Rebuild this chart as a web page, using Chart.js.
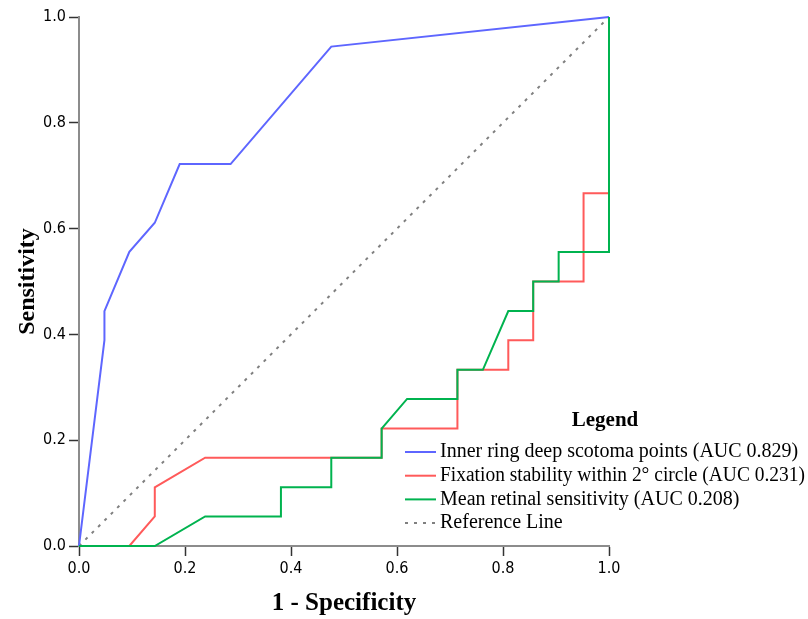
<!DOCTYPE html>
<html>
<head>
<meta charset="utf-8">
<script src="https://cdn.jsdelivr.net/npm/chart.js@4/dist/chart.umd.min.js"></script>
<style>
  body { margin: 0; background: #fff; }
  #wrap { width: 808px; height: 619px; }
</style>
</head>
<body>
<div id="wrap"><canvas id="roc" width="808" height="619"></canvas></div>
<script>
// ROC coordinates (1 - specificity, sensitivity)
const innerX = [0, 0.048, 0.048, 0.095, 0.143, 0.190, 0.286, 0.476, 1.0];
const innerY = [0, 0.389, 0.444, 0.556, 0.611, 0.722, 0.722, 0.944, 1.0];

const fixX = [0, 0.095, 0.143, 0.143, 0.238, 0.571, 0.571, 0.714, 0.714, 0.810, 0.810, 0.857, 0.857, 0.952, 0.952, 1.0, 1.0];
const fixY = [0, 0, 0.056, 0.111, 0.167, 0.167, 0.222, 0.222, 0.333, 0.333, 0.389, 0.389, 0.5, 0.5, 0.667, 0.667, 1.0];

const meanX = [0, 0.143, 0.238, 0.381, 0.381, 0.476, 0.476, 0.571, 0.571, 0.619, 0.714, 0.714, 0.762, 0.810, 0.857, 0.857, 0.905, 0.905, 1.0, 1.0];
const meanY = [0, 0, 0.056, 0.056, 0.111, 0.111, 0.167, 0.167, 0.222, 0.278, 0.278, 0.333, 0.333, 0.444, 0.444, 0.5, 0.5, 0.556, 0.556, 1.0];

const refX = [0, 1];
const refY = [0, 1];

const seriesLabels = [
  'Inner ring deep scotoma points (AUC 0.829)',
  'Fixation stability within 2\u00B0 circle (AUC 0.231)',
  'Mean retinal sensitivity (AUC 0.208)',
  'Reference Line'
];
const tickValues = [0, 0.2, 0.4, 0.6, 0.8, 1.0];

function pts(xs, ys) {
  return xs.map((x, i) => ({x: x, y: ys[i]}));
}

const serif = '"Liberation Serif", "Times New Roman", serif';
const narrow = '"Liberation Sans Narrow", "DejaVu Sans Condensed", sans-serif';

// draws the SPSS style legend box inside the plot
const legendBox = {
  id: 'legendBox',
  afterDraw(chart) {
    const ctx = chart.ctx;
    ctx.save();
    ctx.fillStyle = '#000';
    ctx.font = 'bold 21px ' + serif;
    ctx.textAlign = 'center';
    ctx.textBaseline = 'middle';
    ctx.fillText('Legend', 605, 421);
    ctx.font = '20px ' + serif;
    ctx.textAlign = 'left';
    chart.data.datasets.forEach((ds, i) => {
      const y = 452 + i * 23.7;
      ctx.strokeStyle = ds.borderColor;
      ctx.lineWidth = 2;
      ctx.setLineDash(ds.borderDash || []);
      ctx.beginPath();
      ctx.moveTo(405, y);
      ctx.lineTo(436, y);
      ctx.stroke();
      ctx.setLineDash([]);
      // squeeze the long line a bit so it fits like in the original
      ctx.fillText(ds.label, 440, y, 365);
    });
    ctx.restore();
  }
};

new Chart(document.getElementById('roc'), {
  type: 'line',
  data: {
    datasets: [
      {label: seriesLabels[0], data: pts(innerX, innerY), borderColor: '#5e66ff', order: 2},
      {label: seriesLabels[1], data: pts(fixX, fixY), borderColor: '#ff5a5a', order: 1},
      {label: seriesLabels[2], data: pts(meanX, meanY), borderColor: '#00b34f', order: 0},
      {label: seriesLabels[3], data: pts(refX, refY), borderColor: '#808080', borderDash: [3, 6], order: 3}
    ]
  },
  options: {
    responsive: false,
    animation: false,
    layout: {padding: {top: 17, right: 199, left: 0, bottom: 0}},
    datasets: {
      line: {borderWidth: 2, pointRadius: 0, tension: 0, fill: false, clip: false}
    },
    plugins: {
      legend: {display: false},
      tooltip: {enabled: false}
    },
    scales: {
      x: {
        type: 'linear',
        min: 0, max: 1,
        afterFit(s) { s.height = 73; },
        afterBuildTicks(s) { s.ticks = tickValues.map(v => ({value: v})); },
        grid: {drawOnChartArea: false, drawTicks: true, tickLength: 10, tickColor: '#333', tickWidth: 1.5},
        border: {color: '#8c8c8c', width: 2},
        ticks: {
          color: '#000', padding: 3, maxRotation: 0,
          font: {family: narrow, size: 16},
          callback: v => v.toFixed(1)
        },
        title: {
          display: true, text: '1 - Specificity', color: '#000',
          font: {family: serif, size: 25, weight: 'bold'},
          padding: {top: 0, bottom: 0}
        }
      },
      y: {
        type: 'linear',
        min: 0, max: 1,
        afterFit(s) { s.width = 79; },
        afterBuildTicks(s) { s.ticks = tickValues.map(v => ({value: v})); },
        grid: {drawOnChartArea: false, drawTicks: true, tickLength: 10, tickColor: '#333', tickWidth: 1.5},
        border: {color: '#8c8c8c', width: 2},
        ticks: {
          color: '#000', padding: 3,
          font: {family: narrow, size: 16},
          callback: v => v.toFixed(1)
        },
        title: {
          display: true, text: 'Sensitivity', color: '#000',
          font: {family: serif, size: 24, weight: 'bold'},
          padding: {top: 13, bottom: 0}
        }
      }
    }
  },
  plugins: [legendBox]
});
</script>
</body>
</html>
